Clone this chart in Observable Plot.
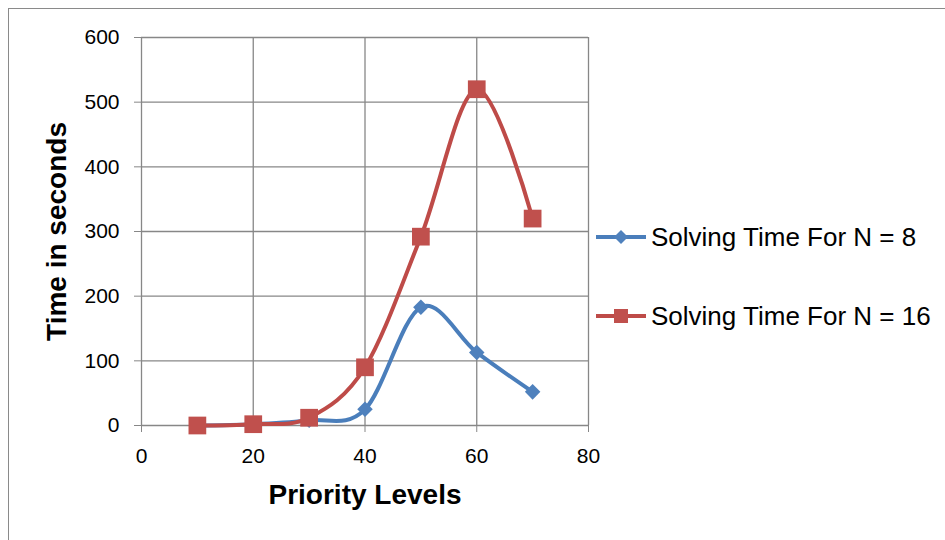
<!DOCTYPE html>
<html>
<head>
<meta charset="utf-8">
<script src="https://cdn.jsdelivr.net/npm/d3@7"></script>
<script src="https://cdn.jsdelivr.net/npm/@observablehq/plot@0.6"></script>
<style>
  html, body { margin: 0; padding: 0; background: #fff; overflow: hidden; }
  #wrap { position: relative; width: 945px; height: 540px; }
  #frame { position: absolute; left: 8px; top: 8px; width: 980px; height: 600px; border: 1.5px solid #8a8a8a; box-sizing: border-box; }
  #chart { position: absolute; left: 0; top: 0; }
  #legend { position: absolute; left: 596px; top: 0; font-family: "Liberation Sans", Arial, sans-serif; font-size: 26px; color: #000; }
  .item { position: absolute; left: 0; display: flex; align-items: center; white-space: nowrap; }
  .item svg { display: block; margin-right: 3px; }
</style>
</head>
<body>
<div id="wrap">
  <div id="frame"></div>
  <div id="chart"></div>
  <div id="legend"></div>
</div>
<script>
const priority = [10, 20, 30, 40, 50, 60, 70];
const solveN8 = [0, 2, 8, 25, 183, 113, 52];
const solveN16 = [0, 2, 12, 90, 292, 520, 320];
const seriesNames = ["Solving Time For N = 8", "Solving Time For N = 16"];
const xTicks = [0, 20, 40, 60, 80];
const yTicks = [0, 100, 200, 300, 400, 500, 600];

const blue = "#4A7EBB", blueMarker = "#4F81BD";
const red = "#BE4B48", redMarker = "#C0504D";
const grid = "#878787";

const d8 = priority.map((p, i) => ({x: p, y: solveN8[i]}));
const d16 = priority.map((p, i) => ({x: p, y: solveN16[i]}));

const plot = Plot.plot({
  width: 945,
  height: 540,
  marginLeft: 141,
  marginRight: 357,
  marginTop: 37,
  marginBottom: 115,
  style: {fontFamily: "Liberation Sans, Arial, sans-serif", background: "transparent"},
  x: {domain: [0, 80]},
  y: {domain: [0, 600]},
  marks: [
    Plot.ruleY(yTicks, {y: d => d, stroke: grid, strokeWidth: 1.3}),
    Plot.ruleX(xTicks, {x: d => d, stroke: grid, strokeWidth: 1.3}),
    Plot.axisY({ticks: yTicks, tickSize: 7, tickPadding: 15, fontSize: 21, stroke: grid, fill: "#000", label: null, tickFormat: d => String(d)}),
    Plot.axisX({ticks: xTicks, tickSize: 7, tickPadding: 16, fontSize: 21, stroke: grid, fill: "#000", label: null, tickFormat: d => String(d)}),
    Plot.line(d8, {x: "x", y: "y", stroke: blue, strokeWidth: 4, curve: "cardinal"}),
    Plot.dot(d8, {x: "x", y: "y", symbol: "diamond2", r: 7, fill: blueMarker, stroke: "none"}),
    Plot.line(d16, {x: "x", y: "y", stroke: red, strokeWidth: 4, curve: "cardinal"}),
    Plot.dot(d16, {x: "x", y: "y", symbol: "square", r: 10, fill: redMarker, stroke: "none"}),
    Plot.text(["Priority Levels"], {frameAnchor: "bottom", dy: 70, text: d => d, fontSize: 28, fontWeight: "bold", fill: "#000", lineAnchor: "middle", textAnchor: "middle"}),
    Plot.text(["Time in seconds"], {frameAnchor: "left", dx: -84, text: d => d, fontSize: 28, fontWeight: "bold", fill: "#000", rotate: -90, lineAnchor: "middle", textAnchor: "middle"})
  ]
});
document.getElementById("chart").appendChild(plot);

// Legend
const legend = d3.select("#legend");
const items = [
  {name: seriesNames[0], color: blue, marker: blueMarker, sym: "diamond", top: 237},
  {name: seriesNames[1], color: red, marker: redMarker, sym: "square", top: 316}
];
items.forEach(it => {
  const div = legend.append("div").attr("class", "item").style("top", (it.top - 17) + "px").style("height", "34px");
  const svg = div.append("svg").attr("width", 52).attr("height", 20);
  svg.append("line").attr("x1", 0).attr("x2", 50).attr("y1", 10).attr("y2", 10).attr("stroke", it.color).attr("stroke-width", 4);
  if (it.sym === "diamond") {
    svg.append("path").attr("d", "M25,3 L32,10 L25,17 L18,10 Z").attr("fill", it.marker);
  } else {
    svg.append("rect").attr("x", 18).attr("y", 3).attr("width", 14).attr("height", 14).attr("fill", it.marker);
  }
  div.append("span").text(it.name);
});
</script>
</body>
</html>
